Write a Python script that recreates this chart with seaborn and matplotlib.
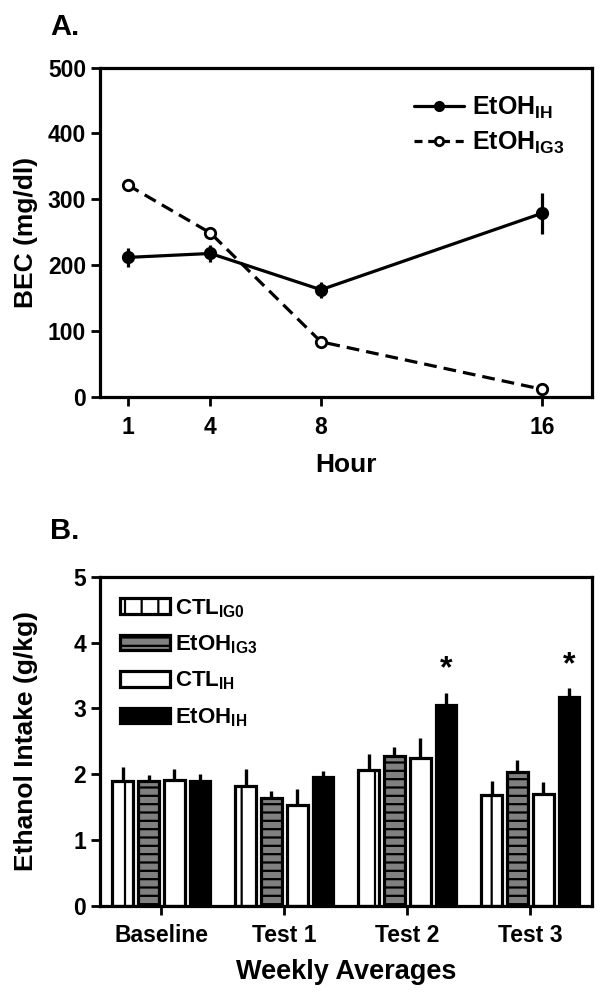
import numpy as np
import pandas as pd
import seaborn as sns
import matplotlib.pyplot as plt
from matplotlib.patches import Patch
from matplotlib.lines import Line2D

# ---------- data ----------
hours = [1, 4, 8, 16]
bec_ih = [212, 218, 163, 279]
bec_ih_err = [15, 13, 12, 31]
bec_ig3 = [322, 249, 84, 12]
bec_ig3_err = [8, 6, 8, 8]

weeks = ["Baseline", "Test 1", "Test 2", "Test 3"]
groups = ["CTL_IG0", "EtOH_IG3", "CTL_IH", "EtOH_IH"]
intake_ctl_ig0 = [1.89, 1.82, 2.06, 1.69]
intake_ctl_ig0_err = [0.22, 0.26, 0.25, 0.20]
intake_etoh_ig3 = [1.89, 1.64, 2.28, 2.04]
intake_etoh_ig3_err = [0.10, 0.11, 0.13, 0.18]
intake_ctl_ih = [1.915, 1.53, 2.24, 1.70]
intake_ctl_ih_err = [0.165, 0.24, 0.31, 0.18]
intake_etoh_ih = [1.90, 1.96, 3.05, 3.17]
intake_etoh_ih_err = [0.10, 0.09, 0.19, 0.14]
signif_weeks = ["Test 2", "Test 3"]

sns.set_theme(style="ticks")
plt.rcParams["font.family"] = ["Liberation Sans", "DejaVu Sans"]
plt.rcParams["font.weight"] = "bold"
plt.rcParams["text.color"] = "black"
plt.rcParams["axes.labelcolor"] = "black"
plt.rcParams["mathtext.fontset"] = "custom"
plt.rcParams["mathtext.rm"] = "Liberation Sans:bold"
plt.rcParams["mathtext.bf"] = "Liberation Sans:bold"
plt.rcParams["hatch.linewidth"] = 1.6


def sub(name):
    base, s = name.split("_")
    return base + r"$_{\mathrm{" + s + "}}$"


def style_axes(ax, pad):
    for sp in ax.spines.values():
        sp.set_linewidth(2.3)
        sp.set_color("black")
    ax.tick_params(direction="out", length=6.5, width=2.0, labelsize=16.5,
                   colors="black")
    ax.tick_params(axis="x", pad=pad)
    for lab in ax.get_xticklabels() + ax.get_yticklabels():
        lab.set_fontweight("bold")
    ax.yaxis.set_label_coords(-0.125, 0.5)


fig = plt.figure(figsize=(6.02, 9.93), dpi=100)
axA = fig.add_axes([0.166, 0.600, 0.817, 0.332])
axB = fig.add_axes([0.166, 0.088, 0.817, 0.331])

# ---------- panel A ----------
dfa = pd.DataFrame({
    "hour": hours * 2,
    "bec": bec_ih + bec_ig3,
    "err": bec_ih_err + bec_ig3_err,
    "group": ["EtOH_IH"] * 4 + ["EtOH_IG3"] * 4,
})
for g, d in dfa.groupby("group", sort=False):
    axA.errorbar(d["hour"], d["bec"], yerr=d["err"], fmt="none",
                 ecolor="black", elinewidth=2.3, capsize=0, zorder=2)
sns.lineplot(data=dfa, x="hour", y="bec", hue="group", style="group",
             hue_order=["EtOH_IH", "EtOH_IG3"],
             palette=["black", "black"], dashes=[(1, 0), (4, 2.2)],
             markers=["o", "o"], markersize=7.5, markeredgewidth=2,
             markeredgecolor="black", linewidth=2.3, legend=False, ax=axA,
             zorder=3)
axA.lines[-1].set_markerfacecolor("white")
axA.set_xlim(0, 17.8)
axA.set_ylim(0, 500)
axA.set_xticks(hours)
axA.set_yticks(range(0, 501, 100))
axA.set_xlabel("Hour", fontsize=19, fontweight="bold", labelpad=10)
axA.set_ylabel("BEC (mg/dl)", fontsize=19, fontweight="bold")
style_axes(axA, 7)
hA = [Line2D([], [], color="black", lw=2.3, marker="o", ms=6, mew=2),
      Line2D([], [], color="black", lw=2.3, ls=(0, (2.5, 1.8)), marker="o",
             ms=6, mew=2, mfc="white")]
axA.legend(hA, [sub("EtOH_IH"), sub("EtOH_IG3")], loc="upper right",
           frameon=False, fontsize=18, handlelength=2.0, labelspacing=0.35,
           handletextpad=0.3, borderaxespad=0.7, labelcolor="black")

# ---------- panel B ----------
means = [intake_ctl_ig0, intake_etoh_ig3, intake_ctl_ih, intake_etoh_ih]
errs = [intake_ctl_ig0_err, intake_etoh_ig3_err, intake_ctl_ih_err, intake_etoh_ih_err]
dfb = pd.DataFrame({
    "week": weeks * 4,
    "group": np.repeat(groups, 4),
    "intake": np.concatenate(means),
    "err": np.concatenate(errs),
})
faces = ["white", "#808080", "white", "black"]
hatches = ["|", "--", "", ""]
sns.barplot(data=dfb, x="week", y="intake", hue="group", order=weeks,
            hue_order=groups, palette=faces, width=0.84, gap=0.2,
            edgecolor="black", linewidth=2.3, errorbar=None, legend=False,
            saturation=1, ax=axB)
bar_conts = list(axB.containers)
for i, cont in enumerate(bar_conts):
    d = dfb[dfb["group"] == groups[i]].set_index("week").loc[weeks]
    xs = [b.get_x() + b.get_width() / 2 for b in cont]
    for b in cont:
        b.set_hatch(hatches[i])
    axB.errorbar(xs, d["intake"], yerr=[np.zeros(4), d["err"]], fmt="none",
                 ecolor="black", elinewidth=2.4, capsize=0, zorder=1)
    if groups[i] == "EtOH_IH":
        for x, w in zip(xs, weeks):
            if w in signif_weeks:
                top = d.loc[w, "intake"] + d.loc[w, "err"]
                axB.text(x, top + 0.12, "*", ha="center", va="bottom",
                         fontsize=23, fontweight="bold", color="black")
axB.set_xlim(-0.5, 3.5)
axB.set_ylim(0, 5)
axB.set_yticks(range(0, 6))
axB.set_xlabel("Weekly Averages", fontsize=19.5, fontweight="bold", labelpad=9)
axB.set_ylabel("Ethanol Intake (g/kg)", fontsize=19, fontweight="bold")
style_axes(axB, 6.5)
hB = [Patch(facecolor=f, edgecolor="black", hatch=h, linewidth=2.3)
      for f, h in zip(faces, hatches)]
axB.legend(hB, [sub(g) for g in groups], loc="upper left", frameon=False,
           fontsize=16, handlelength=2.25, handleheight=0.7, labelspacing=0.62,
           handletextpad=0.25, borderaxespad=0.5, labelcolor="black")

fig.text(50 / 602, 1 - 13 / 993, "A.", fontsize=21, fontweight="bold", va="top")
fig.text(50 / 602, 1 - 517 / 993, "B.", fontsize=21, fontweight="bold", va="top")

fig.savefig("out.png", dpi=100)
